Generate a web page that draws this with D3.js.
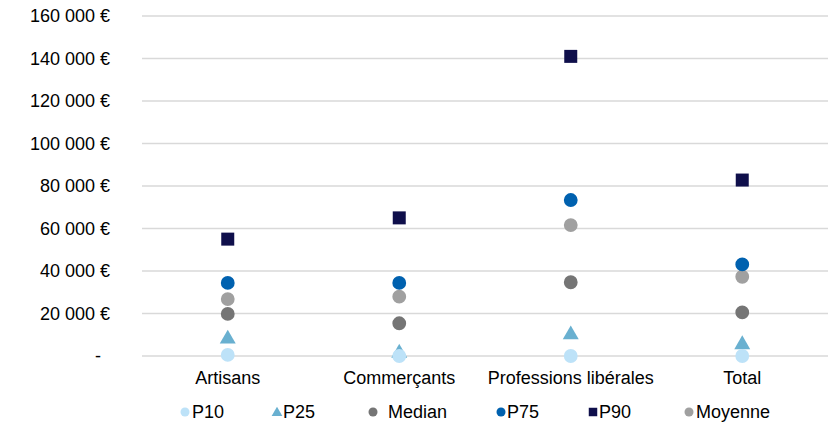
<!DOCTYPE html>
<html><head><meta charset="utf-8">
<script src="https://cdn.jsdelivr.net/npm/d3@7"></script>
<style>body{margin:0;background:#fff}svg{display:block;font-family:"Liberation Sans",Arial,sans-serif}</style>
</head><body><svg id="c" width="837" height="424"></svg>
<script>
const categories = ["Artisans", "Commerçants", "Professions libérales", "Total"];
const seriesNames = ["P10", "P25", "Median", "P75", "P90", "Moyenne"];
const P10 = [500, 0, 0, 0];
const P25 = [8700, 2100, 10700, 6100];
const Median = [19800, 15400, 34700, 20500];
const P75 = [34400, 34400, 73400, 43100];
const P90 = [55000, 65000, 141000, 82800];
const Moyenne = [26800, 27900, 61600, 37300];
const yTicks = [0, 20000, 40000, 60000, 80000, 100000, 120000, 140000, 160000];

const values = {P10, P25, Median, P75, P90, Moyenne};
const colors = {P10:"#BDE2F8", P25:"#69B0D0", Median:"#757575", P75:"#0061AF", P90:"#0F0F4B", Moyenne:"#A0A0A0"};
const shapes = {P10:d3.symbolCircle, P25:d3.symbolTriangle, Median:d3.symbolCircle, P75:d3.symbolCircle, P90:d3.symbolSquare, Moyenne:d3.symbolCircle};
const drawOrder = ["Moyenne","P90","P75","Median","P25","P10"];

const svg = d3.select("#c");
const x = d3.scaleBand().domain(categories).range([142, 828]);
const y = d3.scaleLinear().domain([0, 160000]).range([356, 16]);

const fmt = v => v === 0 ? "-" : d3.format(",")(v).replace(/,/g, "\u00a0") + " €";
const FS = 18;

// gridlines
svg.append("g").selectAll("line").data(yTicks).join("line")
  .attr("x1", 142).attr("x2", 828)
  .attr("y1", d => y(d)).attr("y2", d => y(d))
  .attr("stroke", "#d9d9d9").attr("stroke-width", 1.3);

// y labels
svg.append("g").selectAll("text").data(yTicks).join("text")
  .attr("x", d => d === 0 ? 101 : 110).attr("y", d => y(d)).attr("dy", "0.35em")
  .attr("text-anchor", "end").attr("font-size", FS).attr("fill", "#000")
  .text(fmt);

// x labels
svg.append("g").selectAll("text").data(categories).join("text")
  .attr("x", d => x(d) + x.bandwidth()/2).attr("y", 384)
  .attr("text-anchor", "middle").attr("font-size", FS).attr("fill", "#000")
  .text(d => d);

const sizeFor = s => s === "P90" ? 169 : s === "P25" ? 110 : 150;

// points
drawOrder.forEach(s => {
  svg.append("g").selectAll("path").data(categories).join("path")
    .attr("transform", (c, i) => `translate(${x(c) + x.bandwidth()/2},${y(values[s][i]) + (s==="P25"?1.5:0)})`)
    .attr("d", d3.symbol().type(shapes[s]).size(sizeFor(s)))
    .attr("fill", colors[s]);
});

// legend
const legendPos = [
  {s:"P10", mx:185, tx:192},
  {s:"P25", mx:277, tx:283},
  {s:"Median", mx:373, tx:388},
  {s:"P75", mx:501, tx:507},
  {s:"P90", mx:593, tx:599},
  {s:"Moyenne", mx:689, tx:696}
];
const lg = svg.append("g");
legendPos.forEach(p => {
  lg.append("path")
    .attr("transform", `translate(${p.mx},${412 + (p.s==="P25"?1:0)})`)
    .attr("d", d3.symbol().type(shapes[p.s]).size(p.s==="P90"?72:p.s==="P25"?50:64))
    .attr("fill", colors[p.s]);
  lg.append("text").attr("x", p.tx).attr("y", 412).attr("dy", "0.35em")
    .attr("font-size", FS).attr("fill", "#000").text(p.s);
});
</script></body></html>
